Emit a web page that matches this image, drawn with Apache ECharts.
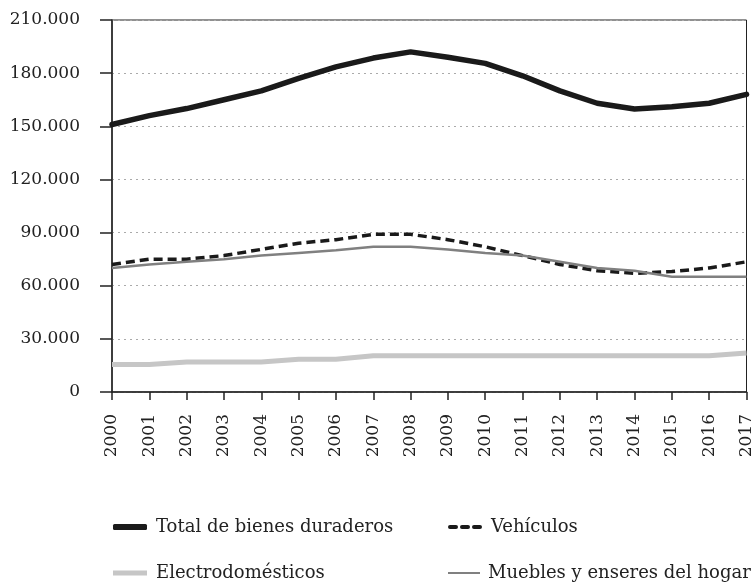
<!DOCTYPE html>
<html>
<head>
<meta charset="utf-8">
<script src="https://cdn.jsdelivr.net/npm/echarts@6/dist/echarts.min.js"></script>
<style>
  html, body { margin: 0; padding: 0; background: #fff; }
  #main { width: 755px; height: 583px; }
</style>
</head>
<body>
<div id="main"></div>
<script>
const years = ['2000', '2001', '2002', '2003', '2004', '2005', '2006', '2007', '2008',
  '2009', '2010', '2011', '2012', '2013', '2014', '2015', '2016', '2017']
const total = [151000, 156000, 160000, 165000, 170000, 177000, 183500, 188500, 192000,
  189000, 185500, 178500, 170000, 163000, 159800, 161000, 163000, 168000]
const vehiculos = [72000, 75000, 75000, 77000, 80500, 84000, 86000, 89000, 89000,
  86000, 82000, 77000, 72000, 68500, 67000, 68000, 70000, 73500]
const electro = [15500, 15500, 17000, 17000, 17000, 18500, 18500, 20500, 20500,
  20500, 20500, 20500, 20500, 20500, 20500, 20500, 20500, 22000]
const muebles = [70000, 72000, 73500, 75000, 77000, 78500, 80000, 82000, 82000,
  80500, 78500, 77000, 73500, 70000, 68500, 65000, 65000, 65000]
const names = ['Total de bienes duraderos', 'Vehículos', 'Electrodomésticos', 'Muebles y enseres del hogar']

const font = 'DejaVu Serif'
const chart = echarts.init(document.getElementById('main'))

// una leyenda por elemento para colocar cada una como en el original
function legendAt (name, left, top, icon, w, h, gap) {
  return {
    data: [{ name: name, icon: icon }],
    left: left,
    top: top,
    itemWidth: w,
    itemHeight: h,
    itemGap: 0,
    textStyle: { fontFamily: font, fontSize: 18, color: '#222', padding: [0, 0, 0, gap] }
  }
}

const dots = 'path://M2,0h6a2,2 0 0 1 0,4h-6a2,2 0 0 1 0,-4zM14,0h6a2,2 0 0 1 0,4h-6a2,2 0 0 1 0,-4zM26,0h6a2,2 0 0 1 0,4h-6a2,2 0 0 1 0,-4z'

chart.setOption({
  animation: false,
  grid: {
    left: 112,
    right: 7,
    top: 20,
    bottom: 191,
    show: true,
    borderColor: '#222',
    borderWidth: 1
  },
  legend: [
    legendAt(names[0], 108, 513, 'roundRect', 34, 6, 4),
    legendAt(names[1], 443, 513, dots, 34, 4, 4),
    legendAt(names[2], 108, 559, 'rect', 34, 5, 4),
    legendAt(names[3], 443, 559, 'rect', 32, 2, 3)
  ],
  xAxis: {
    type: 'category',
    data: years,
    boundaryGap: false,
    axisLine: { lineStyle: { color: '#222', width: 1.5 } },
    axisTick: { alignWithLabel: true, length: 8, lineStyle: { color: '#222', width: 1.5 } },
    axisLabel: {
      rotate: 90,
      margin: 22,
      color: '#222',
      fontFamily: font,
      fontSize: 17,
      interval: 0
    }
  },
  yAxis: {
    type: 'value',
    min: 0,
    max: 210000,
    interval: 30000,
    axisLine: { show: true, lineStyle: { color: '#222', width: 1.5 } },
    axisTick: { show: true, length: 12, lineStyle: { color: '#222', width: 1.5 } },
    axisLabel: {
      margin: 32,
      color: '#222',
      fontFamily: font,
      fontSize: 17,
      formatter: v => v === 0 ? '0' : (v / 1000).toFixed(0) + '.000'
    },
    splitLine: { lineStyle: { color: '#aaa', type: [2, 4], width: 1 } }
  },
  series: [{
    name: names[0],
    type: 'line',
    data: total,
    symbol: 'none',
    itemStyle: { color: '#1a1a1a' },
    lineStyle: { color: '#1a1a1a', width: 5.5, cap: 'round' }
  }, {
    name: names[1],
    type: 'line',
    data: vehiculos,
    symbol: 'none',
    itemStyle: { color: '#1a1a1a' },
    lineStyle: { color: '#1a1a1a', width: 3.5, type: [9, 5] }
  }, {
    name: names[2],
    type: 'line',
    data: electro,
    symbol: 'none',
    itemStyle: { color: '#c6c6c6' },
    lineStyle: { color: '#c6c6c6', width: 5 }
  }, {
    name: names[3],
    type: 'line',
    data: muebles,
    symbol: 'none',
    itemStyle: { color: '#808080' },
    lineStyle: { color: '#808080', width: 2.5 }
  }]
})
</script>
</body>
</html>
